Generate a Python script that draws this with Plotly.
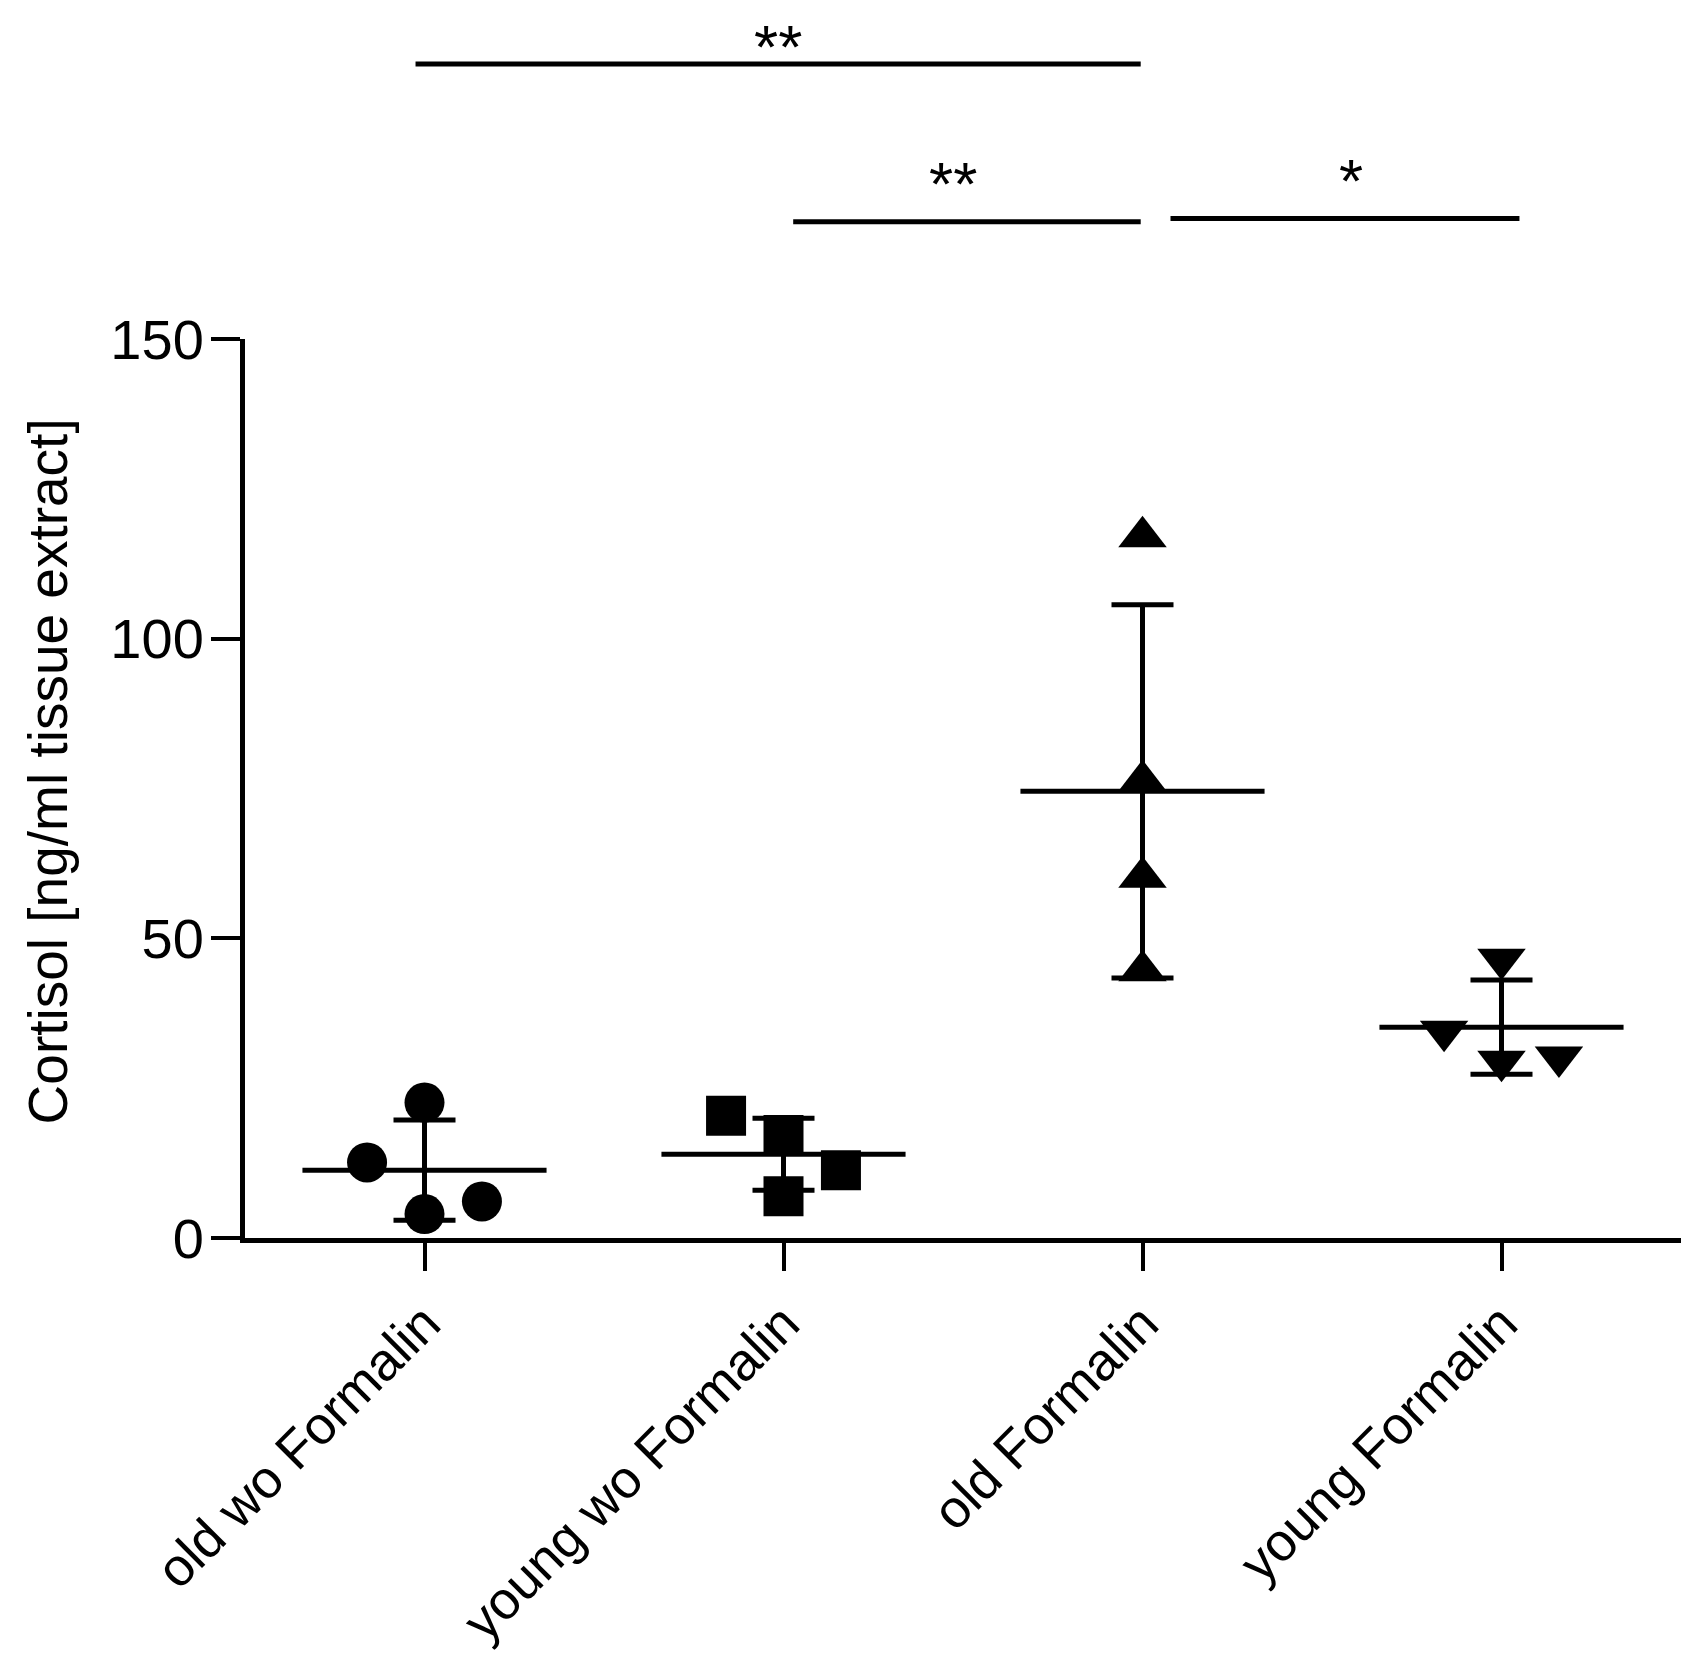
import numpy as np
import plotly.graph_objects as go

# ---------------------------------------------------------------------------
# data (cortisol, ng/ml tissue extract)
# ---------------------------------------------------------------------------
groups = ["old wo Formalin", "young wo Formalin", "old Formalin", "young Formalin"]

old_wo_formalin = [22.6, 12.6, 4.0, 6.1]
young_wo_formalin = [20.4, 17.2, 11.3, 6.95]
old_formalin = [117.0, 76.3, 60.2, 44.6]
young_formalin = [46.5, 34.5, 29.5, 30.2]

# horizontal scatter of the points inside each column (column widths)
old_wo_jitter = [0.0, -0.16, 0.0, 0.16]
young_wo_jitter = [-0.16, 0.0, 0.16, 0.0]
old_f_jitter = [0.0, 0.0, 0.0, 0.0]
young_f_jitter = [0.0, -0.16, 0.0, 0.16]

y_ticks = [0, 50, 100, 150]

# significance bars: (from group, to group, label)
comparisons = [
    (0, 2, "**"),
    (1, 2, "**"),
    (2, 3, "*"),
]

# ---------------------------------------------------------------------------
# styling
# ---------------------------------------------------------------------------
FONT = "Liberation Sans, Arial, sans-serif"
BLACK = "#000000"
SYMBOLS = ["circle", "square", "triangle-up", "triangle-down"]
SIZES = [40, 40, 42, 42]
MEAN_HALF = 0.34
CAP_PX = 31

values = [old_wo_formalin, young_wo_formalin, old_formalin, young_formalin]
jitters = [old_wo_jitter, young_wo_jitter, old_f_jitter, young_f_jitter]

fig = go.Figure()

for i, (vals, jit) in enumerate(zip(values, jitters)):
    vals = np.asarray(vals, dtype=float)
    mean = vals.mean()
    sd = vals.std(ddof=1)

    fig.add_trace(go.Scatter(
        x=[i + j for j in jit],
        y=vals,
        mode="markers",
        marker=dict(symbol=SYMBOLS[i], size=SIZES[i], color=BLACK, line=dict(width=0)),
        cliponaxis=False,
        showlegend=False,
    ))

    # mean line
    fig.add_trace(go.Scatter(
        x=[i - MEAN_HALF, i + MEAN_HALF],
        y=[mean, mean],
        mode="lines",
        line=dict(color=BLACK, width=5),
        showlegend=False,
    ))

    # SD error bar
    fig.add_trace(go.Scatter(
        x=[i],
        y=[mean],
        mode="markers",
        marker=dict(size=1, color="rgba(0,0,0,0)"),
        error_y=dict(type="data", array=[sd], color=BLACK, thickness=5, width=CAP_PX),
        showlegend=False,
    ))

# significance bars above the plot
bar_y = [1.306, 1.1305, 1.134]
bar_pad = [(-0.025, -0.005), (0.027, -0.005), (0.078, 0.05)]
text_y = [1.366, 1.1735, 1.1765]
text_anchor = ["top", "middle", "middle"]
text_dx = [0.0, -0.039, 0.018]
for (a, b, label), by, (pa, pb), ty, ya, dx in zip(comparisons, bar_y, bar_pad,
                                                  text_y, text_anchor, text_dx):
    x0, x1 = a + pa, b + pb
    fig.add_shape(type="line", xref="x", yref="paper", x0=x0, x1=x1, y0=by, y1=by,
                  line=dict(color=BLACK, width=5))
    fig.add_annotation(x=(x0 + x1) / 2 + dx, y=ty, xref="x", yref="paper", text=label,
                       showarrow=False, yanchor=ya,
                       font=dict(family=FONT, size=62, color=BLACK))

# y axis title placed as an annotation so it sits where the original has it
fig.add_annotation(x=-0.1374, y=0.5187, xref="paper", yref="paper",
                   text="Cortisol [ng/ml tissue extract]", textangle=-90,
                   showarrow=False, xanchor="center", yanchor="middle",
                   font=dict(family=FONT, size=55, color=BLACK))

fig.update_layout(
    width=1681,
    height=1651,
    margin=dict(l=237, r=8, t=331, b=421),
    plot_bgcolor="white",
    paper_bgcolor="white",
    font=dict(family=FONT, color=BLACK),
    showlegend=False,
    xaxis=dict(
        range=[-0.5, 3.5],
        tickmode="array",
        tickvals=list(range(len(groups))),
        ticktext=groups,
        tickangle=-45,
        tickfont=dict(family=FONT, size=53, color=BLACK),
        ticks="outside",
        ticklen=28,
        tickwidth=4,
        tickcolor=BLACK,
        showline=True,
        linewidth=5,
        linecolor=BLACK,
        showgrid=False,
        zeroline=False,
        automargin=False,
    ),
    yaxis=dict(
        range=[0, 150],
        tickmode="array",
        tickvals=y_ticks,
        tickfont=dict(family=FONT, size=56, color=BLACK),
        ticklabelstandoff=-4,
        ticks="outside",
        ticklen=29,
        tickwidth=4,
        tickcolor=BLACK,
        showline=True,
        linewidth=5,
        linecolor=BLACK,
        showgrid=False,
        zeroline=False,
        automargin=False,
    ),
)

fig.write_html("out.html")
